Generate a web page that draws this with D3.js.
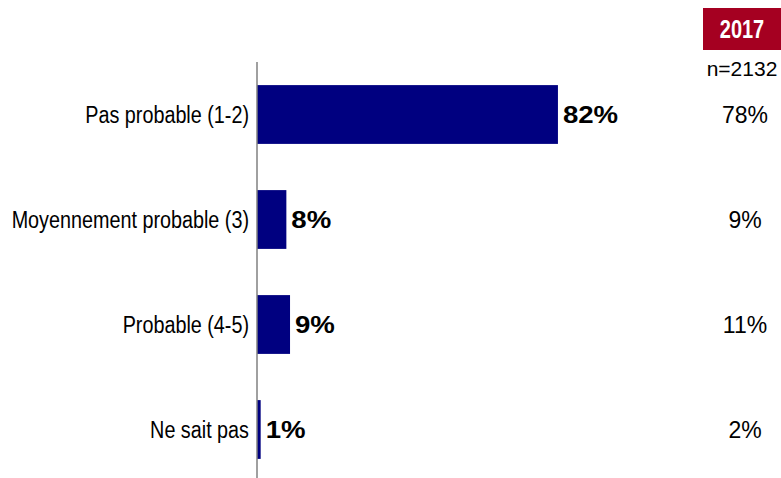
<!DOCTYPE html>
<html>
<head>
<meta charset="utf-8">
<script src="https://cdn.jsdelivr.net/npm/d3@7"></script>
<style>
  body { margin: 0; background: #fff; }
  text { font-family: "Liberation Sans", Arial, sans-serif; fill: #000; }
  .cat { font-size: 23px; }
  .val { font-size: 23px; font-weight: bold; }
  .prev { font-size: 23px; }
</style>
</head>
<body>
<div id="chart"></div>
<script>
const categories = ["Pas probable (1-2)", "Moyennement probable (3)", "Probable (4-5)", "Ne sait pas"];
const values2019 = [82, 8, 9, 1];
const values2017 = [78, 9, 11, 2];
const yearLabel = "2017";
const nLabel = "n=2132";

const width = 781, height = 478;
const svg = d3.select("#chart").append("svg")
    .attr("width", width)
    .attr("height", height);

const x = d3.scaleLinear().domain([0, 100]).range([257, 624]);
const y = d3.scaleBand().domain(categories).range([62, 482]).paddingInner(0.44).paddingOuter(0.22);

// bars
svg.selectAll("rect.bar")
    .data(categories)
    .enter().append("rect")
    .attr("class", "bar")
    .attr("x", x(0))
    .attr("y", d => y(d))
    .attr("width", (d, i) => x(values2019[i]) - x(0))
    .attr("height", y.bandwidth())
    .attr("fill", "#000080");

// axis line
svg.append("line")
    .attr("x1", x(0)).attr("x2", x(0))
    .attr("y1", 62).attr("y2", height)
    .attr("stroke", "#808080")
    .attr("stroke-width", 1.5);

// category labels (narrow face)
svg.selectAll("g.cat")
    .data(categories)
    .enter().append("g")
    .attr("transform", d => `translate(${x(0) - 8},${y(d) + y.bandwidth() / 2}) scale(0.86,1)`)
    .append("text")
    .attr("class", "cat")
    .attr("dy", "0.36em")
    .attr("text-anchor", "end")
    .text(d => d);

// value labels (wide bold)
svg.selectAll("g.val")
    .data(categories)
    .enter().append("g")
    .attr("transform", (d, i) => `translate(${x(values2019[i]) + 5},${y(d) + y.bandwidth() / 2}) scale(1.2,1)`)
    .append("text")
    .attr("class", "val")
    .attr("dy", "0.36em")
    .text((d, i) => values2019[i] + "%");

// previous year column
const colX = 742;
svg.append("rect")
    .attr("x", 703).attr("y", 8)
    .attr("width", 78).attr("height", 42)
    .attr("fill", "#A50021");
svg.append("g")
    .attr("transform", `translate(${colX},29) scale(0.8,1)`)
    .append("text")
    .attr("dy", "0.36em")
    .attr("text-anchor", "middle")
    .attr("font-weight", "bold")
    .attr("font-size", 25)
    .style("fill", "#fff")
    .text(yearLabel);
svg.append("text")
    .attr("x", colX).attr("y", 68)
    .attr("dy", "0.36em")
    .attr("text-anchor", "middle")
    .attr("font-size", 21)
    .text(nLabel);

svg.selectAll("text.prevval")
    .data(categories)
    .enter().append("text")
    .attr("class", "prev prevval")
    .attr("x", colX + 3)
    .attr("y", d => y(d) + y.bandwidth() / 2)
    .attr("dy", "0.36em")
    .attr("text-anchor", "middle")
    .text((d, i) => values2017[i] + "%");
</script>
</body>
</html>
